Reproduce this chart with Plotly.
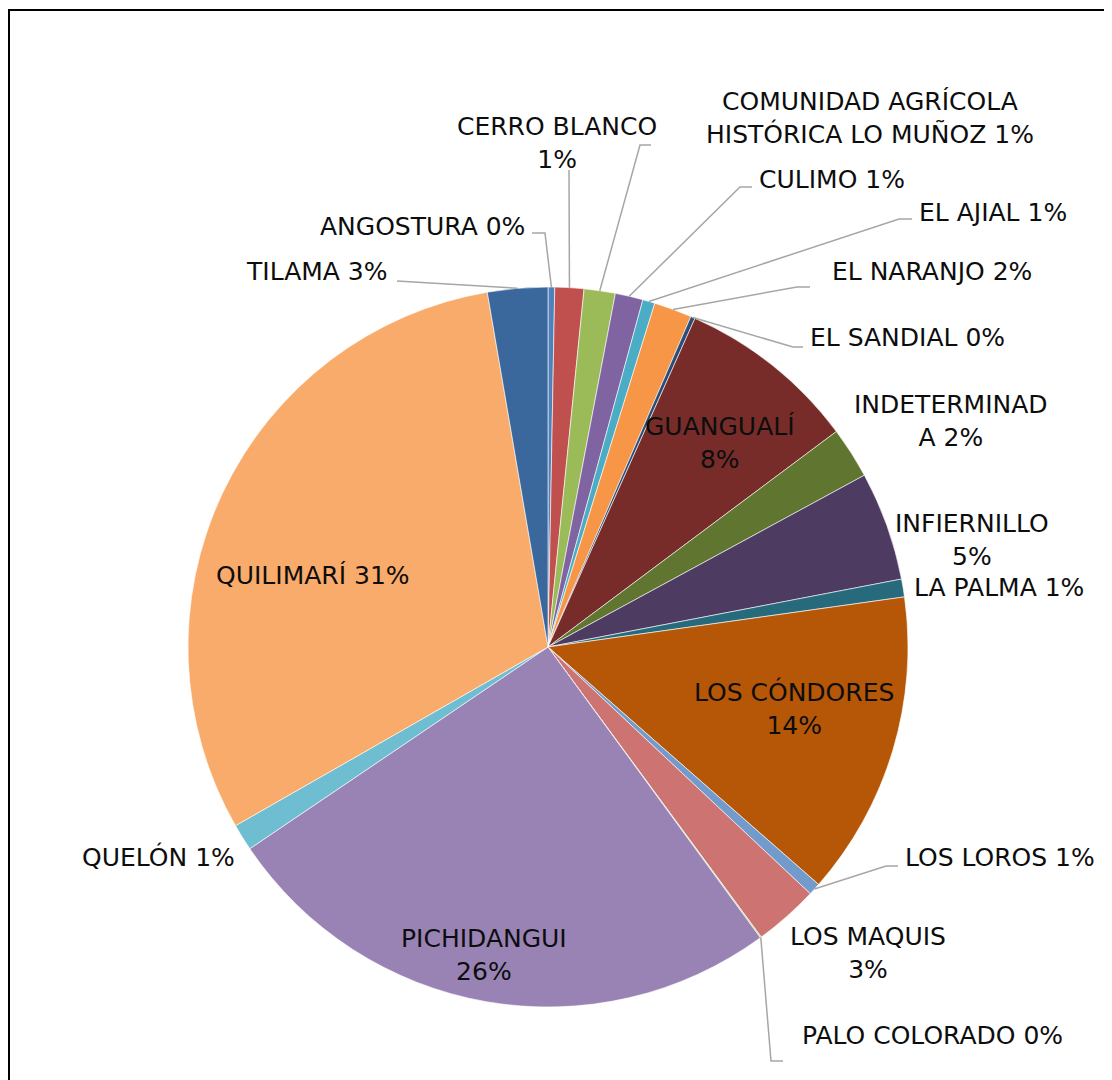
import math
import plotly.graph_objects as go

# sectores (orden alfabetico, sentido horario desde las 12)
sectores = ['ANGOSTURA', 'CERRO BLANCO', 'COMUNIDAD AGRÍCOLA HISTÓRICA LO MUÑOZ', 'CULIMO',
            'EL AJIAL', 'EL NARANJO', 'EL SANDIAL', 'GUANGUALÍ', 'INDETERMINADA',
            'INFIERNILLO', 'LA PALMA', 'LOS CÓNDORES', 'LOS LOROS', 'LOS MAQUIS',
            'PALO COLORADO', 'PICHIDANGUI', 'QUELÓN', 'QUILIMARÍ', 'TILAMA']
porcentajes = [0.3, 1.3, 1.4, 1.25, 0.55, 1.7, 0.2, 8.1, 2.3, 4.9, 0.8, 13.7,
               0.55, 2.9, 0.05, 25.6, 1.2, 30.6, 2.7]
colores = ['#4F81BD', '#C0504D', '#9BBB59', '#8064A2', '#4BACC6', '#F79646',
           '#2C4D75', '#772C2A', '#5F7530', '#4D3B62', '#276A7C', '#B65708',
           '#729ACA', '#CD7371', '#AFC97A', '#9983B5', '#6FBDD1', '#F9AB6B', '#3A679C']

W, H = 1104, 1072
CX, CY, R = 540, 639, 360

def px(x, y):
    return x / W, 1 - y / H

total = sum(porcentajes)
pct = [int(v / total * 100 + 0.5) for v in porcentajes]

# angulo medio de cada sector (grados, horario desde arriba)
mid = []
acc = 0
for v in porcentajes:
    mid.append((acc + v / 2) / total * 360)
    acc += v

def borde(i):
    a = math.radians(mid[i])
    return CX + R * math.sin(a), CY - R * math.cos(a)

fig = go.Figure(go.Pie(
    labels=sectores, values=porcentajes, sort=False, direction='clockwise', rotation=0,
    marker=dict(colors=colores, line=dict(color='white', width=0.6)),
    textinfo='none', hoverinfo='label+percent', showlegend=False,
    domain=dict(x=[(CX - R) / W, (CX + R) / W], y=[1 - (CY + R) / H, 1 - (CY - R) / H])
))

# texto de etiquetas: (indice, texto, x, y, anclaje)
def txt(i, sep=' '):
    return sectores[i] + sep + str(pct[i]) + '%'

etiquetas = [
    (0, txt(0), 519, 218, 'right'),
    (1, txt(1, '<br>'), 549, 135, 'center'),
    (2, 'COMUNIDAD AGRÍCOLA<br>HISTÓRICA LO MUÑOZ ' + str(pct[2]) + '%', 862, 110, 'center'),
    (3, txt(3), 749, 172, 'left'),
    (4, txt(4), 909, 204, 'left'),
    (5, txt(5), 822, 264, 'left'),
    (6, txt(6), 800, 329, 'left'),
    (7, txt(7, '<br>'), 712, 435, 'center'),
    (8, 'INDETERMINAD<br>A ' + str(pct[8]) + '%', 943, 413, 'center'),
    (9, txt(9, '<br>'), 964, 532, 'center'),
    (10, txt(10), 904, 579, 'left'),
    (11, txt(11, '<br>'), 786, 700, 'center'),
    (12, txt(12), 895, 849, 'left'),
    (13, txt(13, '<br>'), 860, 945, 'center'),
    (14, txt(14), 792, 1027, 'left'),
    (15, txt(15, '<br>'), 476, 947, 'center'),
    (16, txt(16), 229, 849, 'right'),
    (17, txt(17), 305, 567, 'center'),
    (18, txt(18), 382, 263, 'right'),
]

anns = []
for i, t, x, y, anc in etiquetas:
    xp, yp = px(x, y)
    anns.append(dict(x=xp, y=yp, xref='paper', yref='paper', text=t, showarrow=False,
                     xanchor=anc, yanchor='middle', align='center',
                     font=dict(size=25, color='#0D0D0D')))

# lineas guia: puntos del lado de la etiqueta, luego al borde del sector
guias = {
    0: [(524, 225), (537, 225)],
    1: [(561, 162)],
    2: [(643, 137), (632, 137)],
    3: [(744, 179), (732, 179)],
    4: [(904, 211), (891, 211)],
    5: [(802, 279), (789, 279)],
    6: [(795, 339), (785, 339)],
    12: [(890, 858), (878, 858)],
    14: [(775, 1053), (763, 1053)],
    18: [(389, 273)],
}

shapes = []
for i, pts in guias.items():
    pts = pts + [borde(i)]
    path = ' '.join(('M' if k == 0 else 'L') + ' %.5f,%.5f' % px(*p) for k, p in enumerate(pts))
    shapes.append(dict(type='path', xref='paper', yref='paper', path=path,
                       line=dict(color='#A6A6A6', width=1.5)))

# marco del grafico
shapes.append(dict(type='rect', xref='paper', yref='paper',
                   x0=1 / W, x1=1.2, y0=-0.2, y1=1 - 2 / H,
                   line=dict(color='black', width=2), layer='below'))

fig.update_layout(
    width=W, height=H, margin=dict(l=0, r=0, t=0, b=0),
    paper_bgcolor='white', plot_bgcolor='white',
    font=dict(family='Verdana, DejaVu Sans, sans-serif'),
    annotations=anns, shapes=shapes,
)

fig.write_html("out.html")
